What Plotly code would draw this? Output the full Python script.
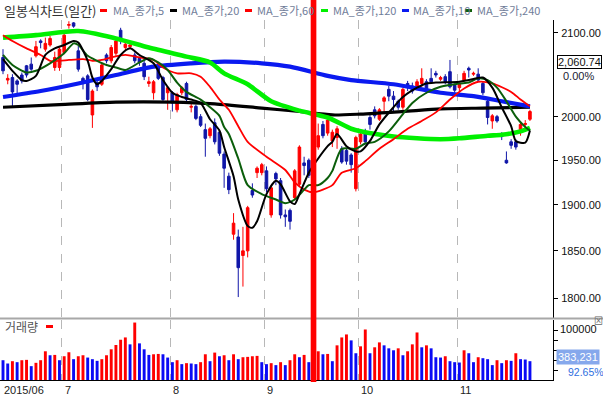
import plotly.graph_objects as go

# ---------------- data (trading-day index 0 = 2015-06-12) ----------------
opens = [2070,2043,2046,2042,2049,2060,2062,2072,2090,2080,
         2085,2058,2058,2076,2109,2112,2078,2045,2048,2002,
         2040,2038,2073,2066,2075,2103,2082,2083,2073,2069,
         2063,2039,2028,2060,2046,2028,2028,2008,2028,2039,
         2011,2012,2000,1985,1978,1993,1982,1957,1932,1868,
         1865,1845,1850,1916,1936,1936,1938,1889,1935,1927,
         1889,1894,1908,1923,1947,1950,1950,1965,1991,1981,
         1972,1976,1963,1961,1956,1918,1971,1980,1999,2008,
         1997,2018,2032,2024,2018,2011,2039,2036,2034,2039,
         2041,2045,2051,2044,2047,2053,2037,2034,2043,2057,
         2050,2050,2039,2018,1995,2000,1979,1950,1971,1971,
         1982,1991,1997]
highs = [2080,2050,2050,2044,2052,2061,2070,2090,2092,2094,
         2096,2077,2082,2102,2114,2113,2084,2047,2050,2032,
         2043,2063,2075,2085,2093,2106,2090,2088,2076,2071,
         2066,2047,2043,2063,2048,2036,2030,2028,2036,2041,
         2016,2014,2003,1992,1988,1998,1985,1960,1936,1891,
         1873,1876,1899,1924,1943,1947,1943,1922,1937,1930,
         1895,1896,1940,1967,1954,1952,1980,1992,1995,1999,
         1985,1989,1966,1964,1958,1978,1984,1986,2002,2012,
         2010,2024,2036,2030,2020,2034,2042,2040,2044,2057,
         2044,2057,2054,2048,2050,2067,2039,2040,2054,2059,
         2053,2057,2041,2020,2003,2002,1982,1960,1974,1974,
         1994,1996,2008]
lows = [2050,2038,2012,2026,2039,2046,2054,2070,2081,2077,
        2083,2054,2054,2074,2105,2106,2053,2032,2018,1987,
        2030,2036,2063,2063,2072,2086,2079,2080,2063,2060,
        2043,2035,2020,2043,2016,2008,2006,2005,2025,2018,
        2005,1996,1988,1954,1975,1968,1955,1919,1912,1862,
        1801,1812,1843,1908,1930,1933,1914,1886,1922,1885,
        1876,1873,1905,1921,1933,1930,1947,1962,1975,1978,
        1965,1963,1946,1945,1936,1915,1968,1968,1985,1998,
        1995,2005,2018,2005,2008,2008,2030,2027,2031,2035,
        2027,2039,2046,2042,2038,2033,2028,2029,2041,2046,
        2048,2041,2025,1991,1986,1993,1973,1946,1963,1962,
        1978,1988,1995]
closes = [2054,2045,2029,2038,2042,2049,2056,2083,2088,2087,
          2093,2070,2080,2097,2110,2108,2056,2041,2020,2030,
          2035,2061,2066,2082,2090,2090,2086,2085,2066,2064,
          2047,2041,2041,2045,2020,2034,2016,2026,2034,2020,
          2012,1998,1990,1975,1986,1971,1958,1941,1917,1880,
          1832,1850,1897,1911,1941,1945,1918,1919,1929,1889,
          1887,1882,1938,1965,1944,1933,1978,1978,1978,1996,
          1982,1986,1948,1949,1945,1976,1980,1971,1991,2001,
          2008,2022,2024,2020,2011,2032,2034,2030,2041,2045,
          2030,2041,2049,2046,2041,2035,2031,2038,2051,2055,
          2051,2043,2028,1999,2001,1995,1977,1947,1967,1965,
          1991,1992,2006]
volumes = [403000,336000,383000,363000,403000,410000,282000,350000,403000,585000,
           504000,511000,403000,484000,565000,424000,484000,504000,457000,424000,
           390000,424000,504000,625000,713000,820000,867000,726000,1170000,746000,
           625000,511000,524000,531000,524000,457000,363000,403000,323000,343000,
           336000,323000,363000,524000,383000,558000,484000,504000,403000,524000,
           424000,464000,471000,484000,491000,363000,323000,343000,303000,363000,
           303000,403000,524000,464000,511000,363000,504000,585000,524000,531000,
           383000,706000,867000,928000,807000,545000,686000,1029000,545000,666000,
           766000,706000,645000,605000,645000,504000,585000,726000,968000,666000,
           706000,645000,464000,457000,484000,383000,363000,356000,605000,545000,
           363000,464000,444000,424000,303000,403000,343000,403000,390000,545000,
           424000,417000,383231]

# moving-average lines (index, value)
ma_fast_idx = [0,2,4,5,7,9,11,13,15,16,18,19,20,21,23,25,27,29,32,34,36,38,40,42,44,46,47,49,50,52,53,54,56,58,59,61,62,63,65,67,69,70,71,73,75,76,78,80,83,85,88,90,92,97,99,102,104,106,108,109,111,112]
ma_fast_val = [2068,2054,2043,2042,2048,2073,2081,2085,2090,2088,2066,2046,2038,2042,2056,2073,2081,2073,2063,2043,2028,2023,2020,2016,1997,1984,1965,1932,1906,1877,1875,1882,1912,1927,1923,1904,1901,1912,1936,1952,1966,1971,1980,1966,1960,1960,1972,1991,2011,2023,2034,2039,2040,2041,2043,2046,2034,2011,1989,1972,1970,1984]
ma_mid_idx = [0,2,5,7,10,13,15,16,18,20,22,24,26,29,31,33,35,37,39,42,44,46,47,48,50,52,55,58,60,62,64,65,67,69,70,72,75,77,79,82,85,87,90,93,97,99,101,103,105,107,109,111,112]
ma_mid_val = [2073,2061,2052,2054,2063,2075,2087,2085,2072,2066,2061,2058,2055,2064,2069,2064,2055,2040,2029,2020,2011,2001,1988,1980,1952,1922,1912,1906,1902,1906,1917,1922,1922,1930,1938,1963,1963,1969,1971,1983,2003,2016,2028,2035,2039,2040,2045,2043,2034,2018,2000,1988,1984]
ma_slow_idx = [0,2,5,8,10,12,14,17,19,21,23,26,29,32,34,37,40,42,44,46,48,50,52,56,60,62,64,66,68,70,72,75,77,80,83,86,89,92,95,98,101,104,108,110,112]
ma_slow_val = [2097,2090,2081,2073,2066,2066,2067,2068,2066,2067,2070,2073,2070,2067,2058,2051,2051,2047,2035,2020,2008,1989,1971,1954,1939,1925,1917,1914,1917,1922,1936,1941,1949,1963,1974,1986,1995,2005,2020,2033,2041,2039,2029,2020,2012]
ma_green_idx = [0,7,16,24,31,39,44,47,52,57,63,69,74,76,83,88,93,97,103,106,110,112]
ma_green_val = [2094,2097,2102,2093,2082,2071,2064,2051,2038,2018,2007,1999,1986,1983,1977,1975,1974,1975,1978,1979,1983,1987]
ma_blue_idx = [0,8,16,24,32,40,47,55,61,69,74,83,93,100,106,112]
ma_blue_val = [2023,2030,2039,2049,2059,2063,2065,2063,2059,2048,2043,2038,2028,2024,2018,2012]
ma_black_idx = [0,12,24,36,45,55,63,70,76,85,93,102,112]
ma_black_val = [2011,2014,2017,2017,2015,2010,2006,2002,2003,2006,2009,2010,2011]

month_start_idx = [13, 36, 56, 76, 97]
month_labels = ["7", "8", "9", "10", "11"]
first_label = "2015/06"
price_ticks = [1800, 1850, 1900, 1950, 2000, 2100]
cursor_idx = 66

legend_items = ["MA_종가,5", "MA_종가,20", "MA_종가,60", "MA_종가,120", "MA_종가,10", "MA_종가,240"]

# ---------------- styling ----------------
RED = "#FF0000"
CANDLE_BLUE = "#1016A8"
VOL_BLUE = "#0A0AF5"
W, H = 603, 398
ML, MR, MT, MB = 0, 50, 20, 18
PW = W - ML - MR
PH = H - MT - MB

def px_x(p):
    return (p - ML) / PW

def px_y(p):
    return (H - MB - p) / PH

idx = list(range(len(closes)))
vol_colors = [VOL_BLUE] + [RED if volumes[i] >= volumes[i - 1] else VOL_BLUE for i in range(1, len(volumes))]

fig = go.Figure()
fig.add_trace(go.Candlestick(
    x=idx, open=opens, high=highs, low=lows, close=closes,
    increasing=dict(line=dict(color=RED, width=1), fillcolor=RED),
    decreasing=dict(line=dict(color=CANDLE_BLUE, width=1), fillcolor=CANDLE_BLUE),
    whiskerwidth=0, showlegend=False, xaxis="x", yaxis="y"))

line_specs = [
    (ma_black_idx, ma_black_val, "#000000", 3.2),
    (ma_blue_idx, ma_blue_val, "#0A1AF0", 4.2),
    (ma_green_idx, ma_green_val, "#00F000", 4.6),
    (ma_slow_idx, ma_slow_val, "#FF0000", 1.8),
    (ma_mid_idx, ma_mid_val, "#0B5E0B", 2.0),
    (ma_fast_idx, ma_fast_val, "#000000", 2.0),
]
for xs, ys, col, w in line_specs:
    fig.add_trace(go.Scatter(x=xs, y=ys, mode="lines",
                             line=dict(color=col, width=w, shape="spline", smoothing=0.7),
                             showlegend=False, hoverinfo="skip", xaxis="x", yaxis="y"))

fig.add_trace(go.Bar(x=idx, y=volumes, marker=dict(color=vol_colors, line=dict(width=0)),
                     width=0.62, showlegend=False, xaxis="x2", yaxis="y2"))

grid_pos = [m - 0.5 for m in month_start_idx]
x_range = [-0.64, 116.9]
common_x = dict(range=x_range, tickvals=grid_pos, showticklabels=False, ticks="",
                showgrid=True, gridcolor="#B8B8B8", griddash="dash", gridwidth=1,
                zeroline=False, fixedrange=True)

fig.update_layout(
    width=W, height=H,
    margin=dict(l=ML, r=MR, t=MT, b=MB),
    paper_bgcolor="white", plot_bgcolor="white",
    font=dict(family="Liberation Sans, Arial, Noto Sans CJK KR, sans-serif", size=11, color="#1a1a1a"),
    boxgap=0.22, bargap=0.3,
    xaxis=dict(domain=[0, 1], anchor="y", rangeslider=dict(visible=False), showline=False, **common_x),
    xaxis2=dict(domain=[0, 1], anchor="y2", matches="x", showline=True, linecolor="black", linewidth=1, **common_x),
    yaxis=dict(domain=[px_y(318), 1], type="log",
               range=[3.250229, 3.325424], side="right",
               tickvals=price_ticks, ticktext=[f"{v:.2f}" for v in price_ticks],
               ticks="outside", ticklen=4, tickcolor="black", ticklabelstandoff=1,
               showline=True, linecolor="black", linewidth=1, mirror=True,
               showgrid=False, zeroline=False, tickfont=dict(size=11, color="#111")),
    yaxis2=dict(domain=[0, px_y(320)], range=[0, 1222000], side="right",
                tickvals=[200000, 400000, 600000, 800000, 1000000], showticklabels=False,
                ticks="outside", ticklen=4, tickcolor="black",
                showline=True, linecolor="black", linewidth=1, mirror=True,
                showgrid=False, zeroline=False),
    showlegend=False,
)

shapes = []
annots = []
# separator between panels
shapes.append(dict(type="line", xref="paper", yref="paper", x0=0, x1=W / PW,
                   y0=px_y(318.5), y1=px_y(318.5), line=dict(color="#A8A8A8", width=2)))
# red cursor band
shapes.append(dict(type="rect", xref="x", yref="paper", x0=cursor_idx - 0.6, x1=cursor_idx + 0.6,
                   y0=px_y(382), y1=px_y(0), fillcolor=RED, line=dict(width=0), layer="above"))

# header legend
annots.append(dict(xref="paper", yref="paper", x=px_x(2), y=px_y(10), xanchor="left", yanchor="middle",
                   text="일봉식차트(일간)", showarrow=False,
                   font=dict(family="Noto Sans CJK KR", size=13, color="#333")))
leg_colors = ["#FF0000", "#000000", "#FF0000", "#00F000", "#0A1AF0", "#0B5E0B"]
marker_x = [100, 170, 245, 321, 402, 465]
text_x = [111, 180, 255, 331, 411, 475]
for lab, col, mx, tx in zip(legend_items, leg_colors, marker_x, text_x):
    shapes.append(dict(type="rect", xref="paper", yref="paper", x0=px_x(mx), x1=px_x(mx + 7),
                       y0=px_y(12), y1=px_y(9), fillcolor=col, line=dict(width=0)))
    annots.append(dict(xref="paper", yref="paper", x=px_x(tx), y=px_y(10), xanchor="left", yanchor="middle",
                       text=lab, showarrow=False,
                       font=dict(family="Noto Sans CJK KR", size=11, color="#6F7C99")))

# volume panel label
annots.append(dict(xref="paper", yref="paper", x=px_x(3), y=px_y(326), xanchor="left", yanchor="middle",
                   text="거래량", showarrow=False,
                   font=dict(family="Noto Sans CJK KR", size=12, color="#555")))
shapes.append(dict(type="rect", xref="paper", yref="paper", x0=px_x(46), x1=px_x(53),
                   y0=px_y(328), y1=px_y(325), fillcolor=RED, line=dict(width=0)))

# right-side value labels
annots.append(dict(xref="paper", yref="paper", x=px_x(579), y=px_y(62), xanchor="center", yanchor="middle",
                   text="2,060.74", showarrow=False, bgcolor="white", bordercolor="black", borderwidth=1,
                   borderpad=0, font=dict(size=11, color="#111")))
annots.append(dict(xref="paper", yref="paper", x=px_x(578), y=px_y(76), xanchor="center", yanchor="middle",
                   text="0.00%", showarrow=False, font=dict(size=11, color="#223")))
annots.append(dict(xref="paper", yref="paper", x=px_x(558), y=px_y(329), xanchor="left", yanchor="middle",
                   text="100000", showarrow=False, font=dict(size=11, color="#111")))
annots.append(dict(xref="paper", yref="paper", x=px_x(556), y=px_y(357), xanchor="left", yanchor="middle",
                   text=f"{volumes[-1]:,}", showarrow=False, bgcolor="#86A8EC", borderpad=1,
                   font=dict(size=11, color="white")))
annots.append(dict(xref="paper", yref="paper", x=px_x(566), y=px_y(372), xanchor="left", yanchor="middle",
                   text="92.65%", showarrow=False, font=dict(size=10.5, color="#2F6FE0")))
annots.append(dict(xref="paper", yref="paper", x=px_x(598), y=px_y(321), xanchor="center", yanchor="middle",
                   text="⊠", showarrow=False, font=dict(size=9, color="#666")))

# x-axis month labels
annots.append(dict(xref="paper", yref="paper", x=px_x(2), y=px_y(390), xanchor="left", yanchor="middle",
                   text=first_label, showarrow=False, font=dict(size=11, color="#222")))
for g, lab in zip(grid_pos, month_labels):
    annots.append(dict(xref="x", yref="paper", x=g, y=px_y(390), xanchor="left", yanchor="middle",
                       xshift=1, text=lab, showarrow=False, font=dict(size=11, color="#222")))

fig.update_layout(shapes=shapes, annotations=annots)
fig.write_html("out.html", config={"displayModeBar": False})

# remove the default page margin so the figure sits at the window origin
with open("out.html", encoding="utf-8") as f:
    html = f.read()
html = html.replace("<head>", "<head><style>html,body{margin:0;padding:0;overflow:hidden;}</style>", 1)
with open("out.html", "w", encoding="utf-8") as f:
    f.write(html)
